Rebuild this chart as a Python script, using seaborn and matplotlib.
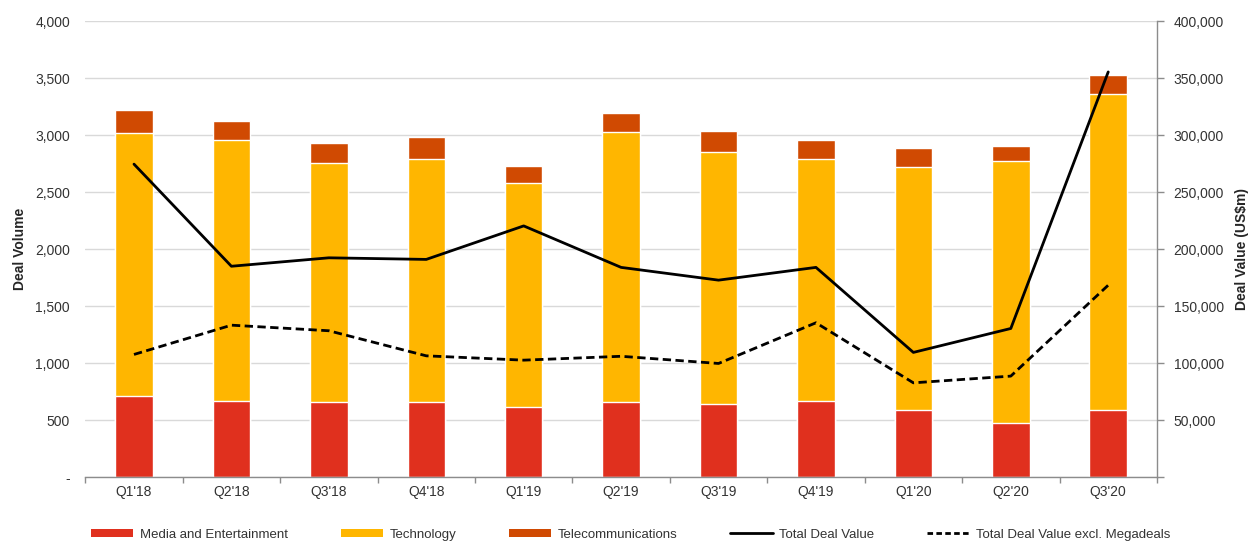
import numpy as np
import pandas as pd
import matplotlib
matplotlib.use("Agg")
import matplotlib.pyplot as plt
from matplotlib.ticker import FuncFormatter, MultipleLocator
from matplotlib.patches import Patch
from matplotlib.lines import Line2D
import seaborn as sns

quarters = ["Q1'18", "Q2'18", "Q3'18", "Q4'18", "Q1'19", "Q2'19",
            "Q3'19", "Q4'19", "Q1'20", "Q2'20", "Q3'20"]
media_ent = [710, 670, 658, 658, 612, 658, 638, 670, 590, 476, 590]
technology = [2305, 2286, 2102, 2137, 1965, 2368, 2215, 2125, 2130, 2296, 2770]
telecom = [210, 170, 173, 185, 151, 165, 180, 163, 165, 136, 166]
total_value = [274600, 185000, 192400, 191000, 220400, 184000,
               172800, 184000, 109400, 130400, 355500]
value_excl_mega = [107600, 133300, 128400, 106400, 102600, 106000,
                   99700, 135400, 82700, 88600, 168400]

C_MEDIA = "#E0301E"
C_TECH = "#FFB600"
C_TEL = "#D04A02"
GRID = "#D9D9D9"
AXIS = "#8C8C8C"
TXT = "#333333"

sns.set_theme(style="white")
plt.rcParams["font.family"] = ["Liberation Sans", "DejaVu Sans"]
plt.rcParams["font.size"] = 10

df = pd.DataFrame({
    "quarter": quarters,
    "media": media_ent,
    "tech": technology,
    "telecom": telecom,
    "total": total_value,
    "excl": value_excl_mega,
})
df["pos"] = np.arange(len(df))
df["tech_top"] = df["media"] + df["tech"]
df["all_top"] = df["tech_top"] + df["telecom"]

fig = plt.figure(figsize=(12.54, 5.44), dpi=100)
ax = fig.add_axes([0.068, 0.123, 0.8546, 0.838])

# stacked columns: draw cumulative heights from the top segment down
bar_kw = dict(width=0.385, edgecolor="white", linewidth=1.0, saturation=1.0, zorder=2)
sns.barplot(data=df, x="quarter", y="all_top", color=C_TEL, ax=ax, **bar_kw)
sns.barplot(data=df, x="quarter", y="tech_top", color=C_TECH, ax=ax, **bar_kw)
sns.barplot(data=df, x="quarter", y="media", color=C_MEDIA, ax=ax, **bar_kw)

ax.set_xlim(-0.5, len(quarters) - 0.5)
ax.set_ylim(0, 4000)
ax.yaxis.set_major_locator(MultipleLocator(500))
ax.yaxis.set_major_formatter(FuncFormatter(lambda v, _: "-" if v == 0 else f"{v:,.0f}"))
ax.grid(axis="y", color=GRID, linewidth=1.0, zorder=0)
ax.set_axisbelow(True)
for s in ["top", "left", "right"]:
    ax.spines[s].set_visible(False)
ax.spines["bottom"].set_color(AXIS)
ax.spines["bottom"].set_linewidth(1.0)
ax.set_xlabel("")
ax.set_ylabel("Deal Volume", fontsize=10, fontweight="bold", labelpad=6)
ax.tick_params(axis="y", left=False, length=0, labelsize=10, labelcolor=TXT, pad=11)
ax.tick_params(axis="x", bottom=False, length=0, labelsize=10, labelcolor=TXT, pad=6)
# small separators between categories on the category axis
ax.set_xticks(np.arange(-0.5, len(quarters) + 0.5, 1.0), minor=True)
ax.tick_params(axis="x", which="minor", bottom=True, length=4, width=1, color=AXIS,
               direction="out")

ax2 = ax.twinx()
sns.lineplot(data=df, x="pos", y="total", ax=ax2, color="black", linewidth=2.0, zorder=4)
sns.lineplot(data=df, x="pos", y="excl", ax=ax2, color="black", linewidth=2.0,
             linestyle=(0, (3, 1.6)), zorder=4)
ax2.set_xlim(-0.5, len(quarters) - 0.5)
ax2.set_ylim(0, 400000)
ax2.yaxis.set_major_locator(MultipleLocator(50000))
ax2.yaxis.set_major_formatter(FuncFormatter(lambda v, _: "" if v == 0 else f"{v:,.0f}"))
for s in ["top", "left", "bottom"]:
    ax2.spines[s].set_visible(False)
ax2.spines["right"].set_color(AXIS)
ax2.spines["right"].set_linewidth(1.0)
ax2.tick_params(axis="y", left=False, right=True, length=5, width=1, color=AXIS,
                labelsize=10, labelcolor=TXT, pad=7)
ax2.tick_params(axis="x", bottom=False, top=False)
ax2.set_xlabel("")
ax2.set_ylabel("Deal Value (US$m)", fontsize=10, fontweight="bold", labelpad=8)
ax2.grid(False)

handles = [
    Patch(facecolor=C_MEDIA, edgecolor="none"),
    Patch(facecolor=C_TECH, edgecolor="none"),
    Patch(facecolor=C_TEL, edgecolor="none"),
    Line2D([], [], color="black", linewidth=2.0),
    Line2D([], [], color="black", linewidth=2.0, linestyle=(0, (2, 1.2))),
]
labels = ["Media and Entertainment", "Technology", "Telecommunications",
          "Total Deal Value", "Total Deal Value excl. Megadeals"]
fig.legend(handles, labels, loc="center", bbox_to_anchor=(0.503, 0.017), ncol=5,
           frameon=False, fontsize=9.5, handlelength=3.2, handleheight=0.55,
           columnspacing=4.0, handletextpad=0.5, labelcolor=TXT)

fig.savefig("out.png", dpi=100)
